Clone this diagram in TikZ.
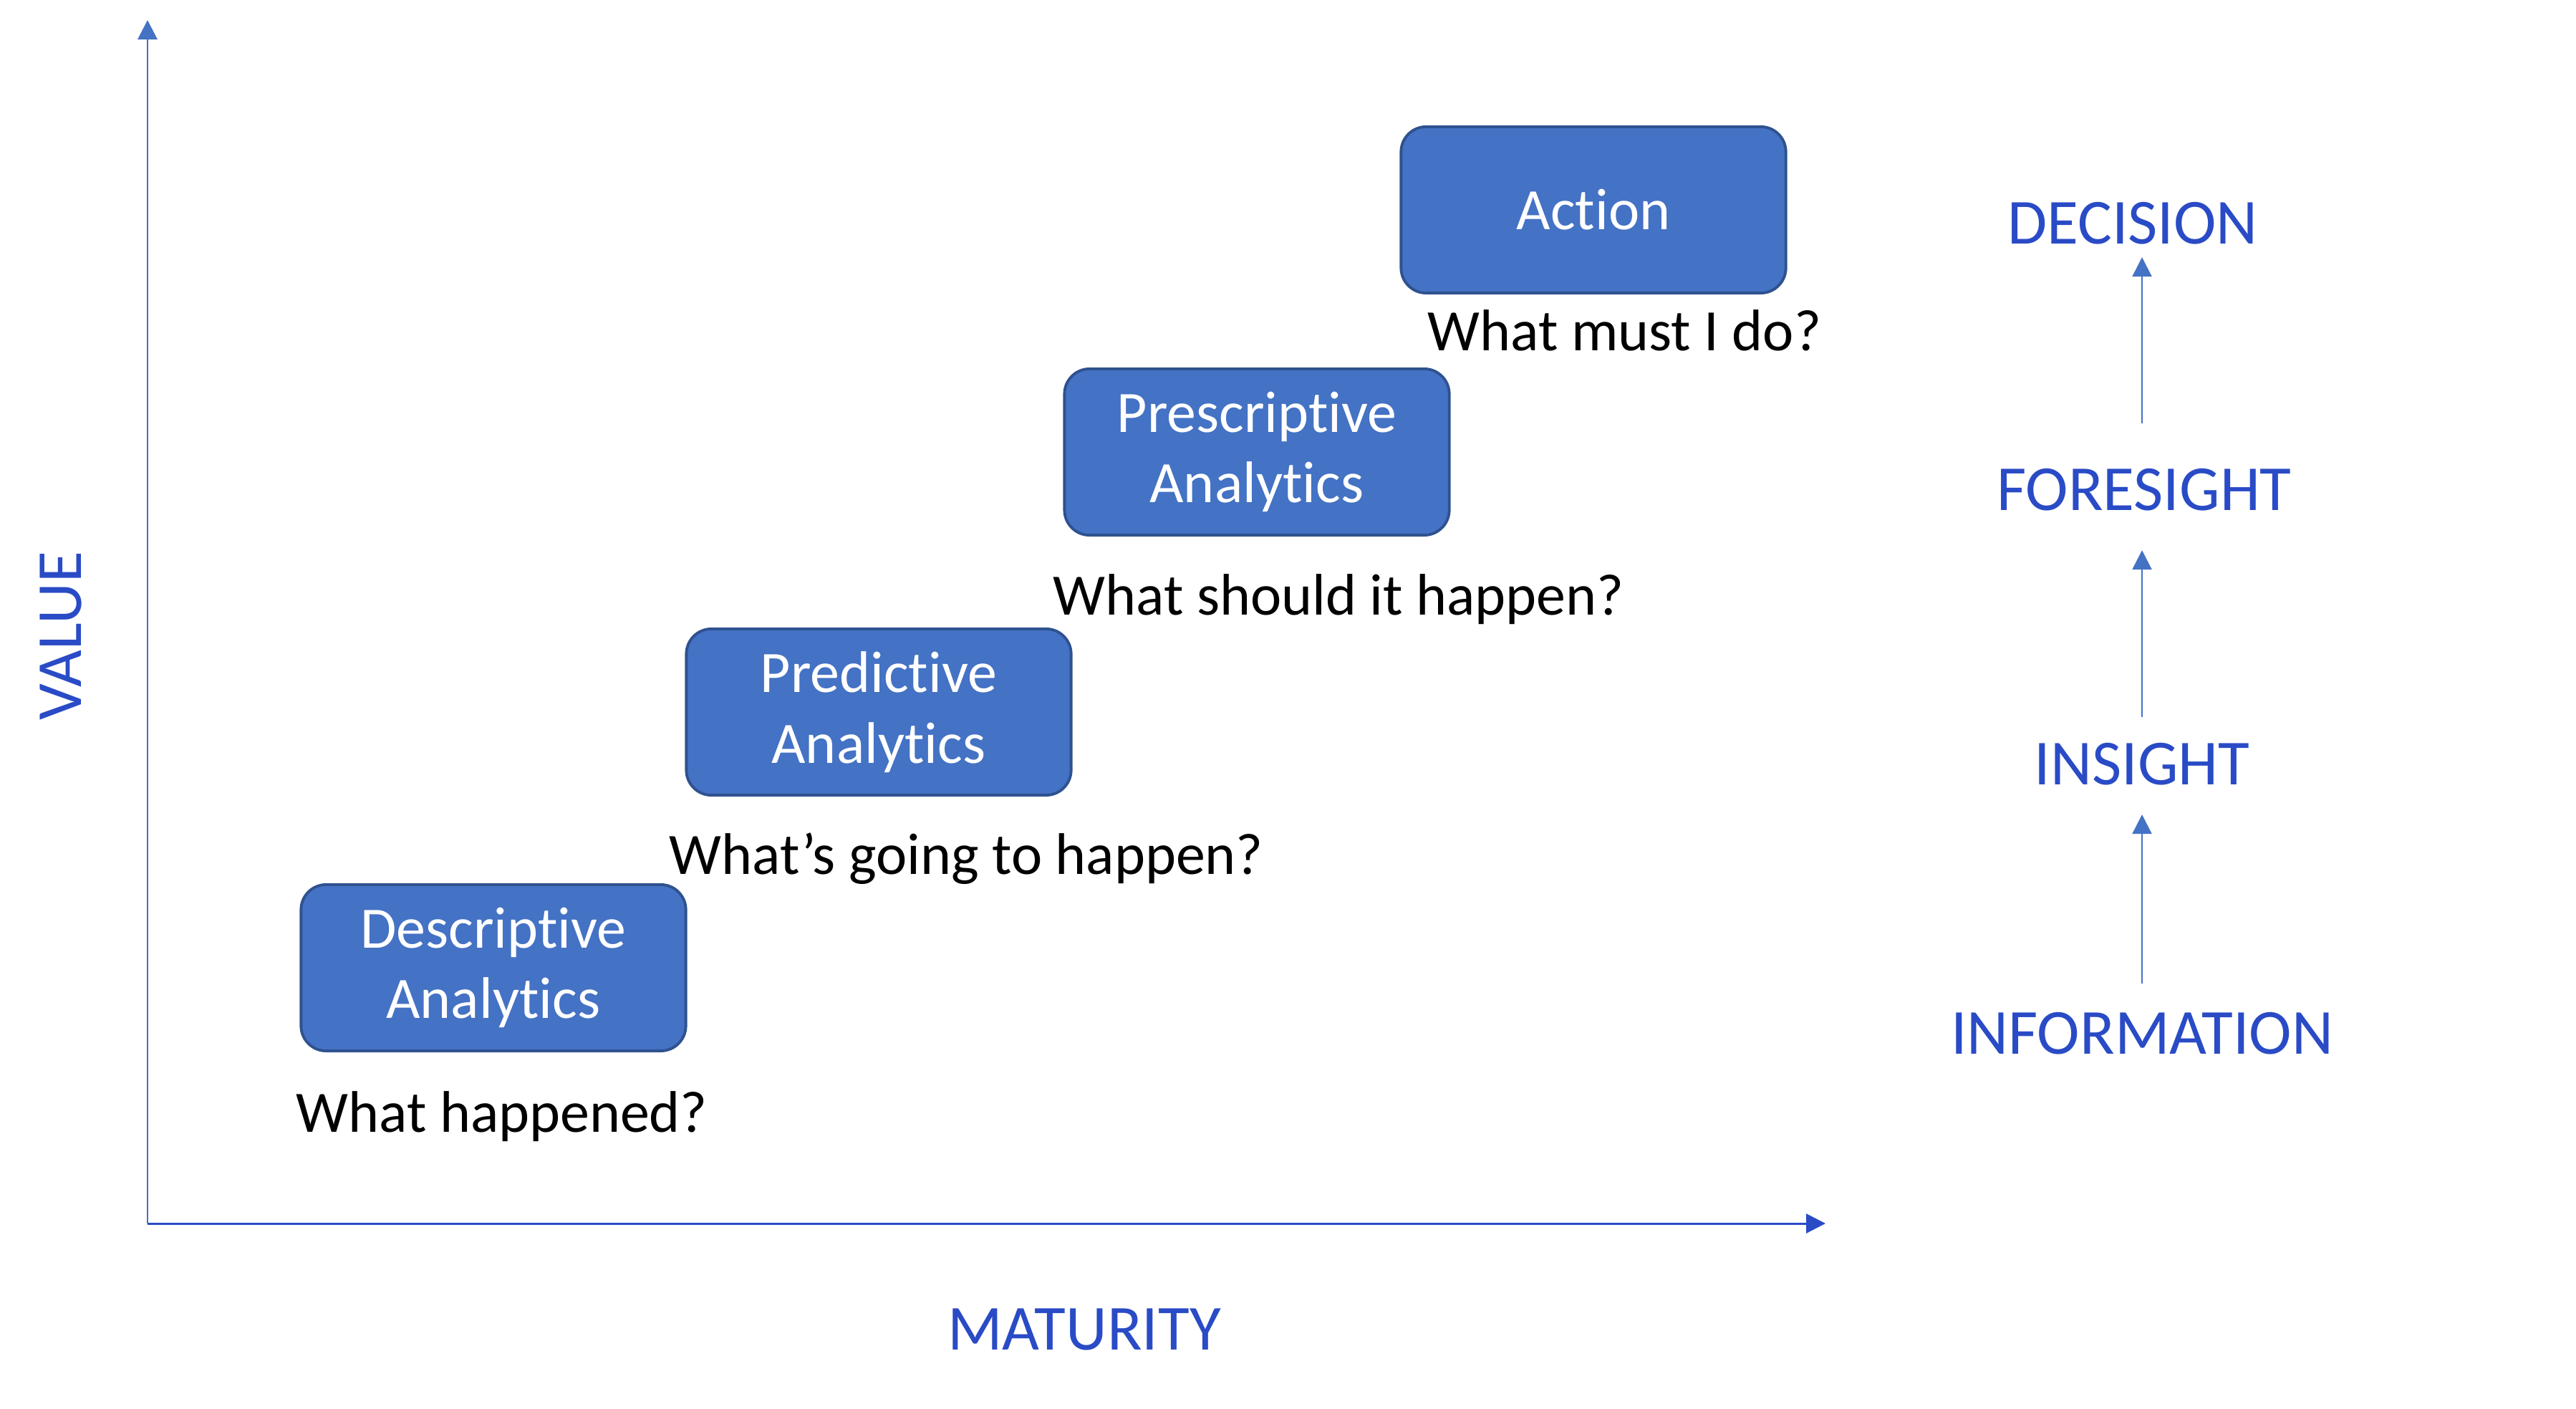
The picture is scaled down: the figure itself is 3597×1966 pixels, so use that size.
\documentclass[tikz,border=0pt]{standalone}
\usepackage{fontspec}
\setmainfont{Carlito}[Ligatures=NoCommon]
\usetikzlibrary{positioning,arrows.meta}
\definecolor{boxfill}{HTML}{4472C4}
\definecolor{boxline}{HTML}{2F528F}
\definecolor{labelblue}{HTML}{2A4BC6}
\tikzset{
  stage/.style={draw=boxline, line width=1.1pt, fill=boxfill, rounded corners=0.35cm,
    minimum width=5.37cm, minimum height=2.32cm, align=center, text=white,
    font=\fontsize{23.3}{28}\selectfont},
  question/.style={anchor=west, inner sep=0pt, font=\fontsize{23.3}{28}\selectfont},
  level/.style={text=labelblue, inner sep=0pt, font=\fontsize{25.5}{30}\selectfont},
  tip/.style={-{Triangle[length=0.27cm,width=0.27cm]}},
}

\begin{document}
\begin{tikzpicture}[x=0.01cm,y=-0.01cm]
  \useasboundingbox (0,0) rectangle (3597,1966);
  % axes
  \coordinate (o) at (206,1708);
  \coordinate (ytop) at (206,28);
  \coordinate (xend) at (2549,1708);
  \draw[boxfill, line width=0.85pt, tip] (o) -- (ytop);
  \draw[labelblue, line width=0.85pt, tip] (o) -- (xend);
  \node[level, rotate=90] (value) at (85,888) {VALUE};
  \node[level] (maturity) at (1514,1856) {MATURITY};
  % stages
  \node[stage] (descriptive) at (689,1351) {Descriptive\\Analytics};
  \node[stage] (predictive) at (1227,994) {Predictive\\Analytics};
  \node[stage] (prescriptive) at (1755,631) {Prescriptive\\Analytics};
  \node[stage] (action) at (2225,293) {Action};
  \node[question] (q1) at (413,1559) {What happened?};
  \node[question] (q2) at (934,1199) {What’s going to happen?};
  \node[question] (q3) at (1470,837) {What should it happen?};
  \node[question] (q4) at (1993,461) {What must I do?};
  % levels
  \node[level] (information) at (2991,1443) {INFORMATION};
  \node[level] (insight) at (2991,1067) {INSIGHT};
  \node[level] (foresight) at (2994,684) {FORESIGHT};
  \node[level] (decision) at (2978,312) {DECISION};
  \draw[boxfill, line width=0.7pt, tip, shorten <=0.4cm, shorten >=0.4cm]
    (information.north) -- (information.north |- insight.south);
  \draw[boxfill, line width=0.7pt, tip, shorten <=0.36cm, shorten >=0.54cm]
    (information.north |- insight.north) -- (information.north |- foresight.south);
  \draw[boxfill, line width=0.7pt, tip, shorten <=0.63cm, shorten >=0.17cm]
    (information.north |- foresight.north) -- (information.north |- decision.south);
\end{tikzpicture}
\end{document}
